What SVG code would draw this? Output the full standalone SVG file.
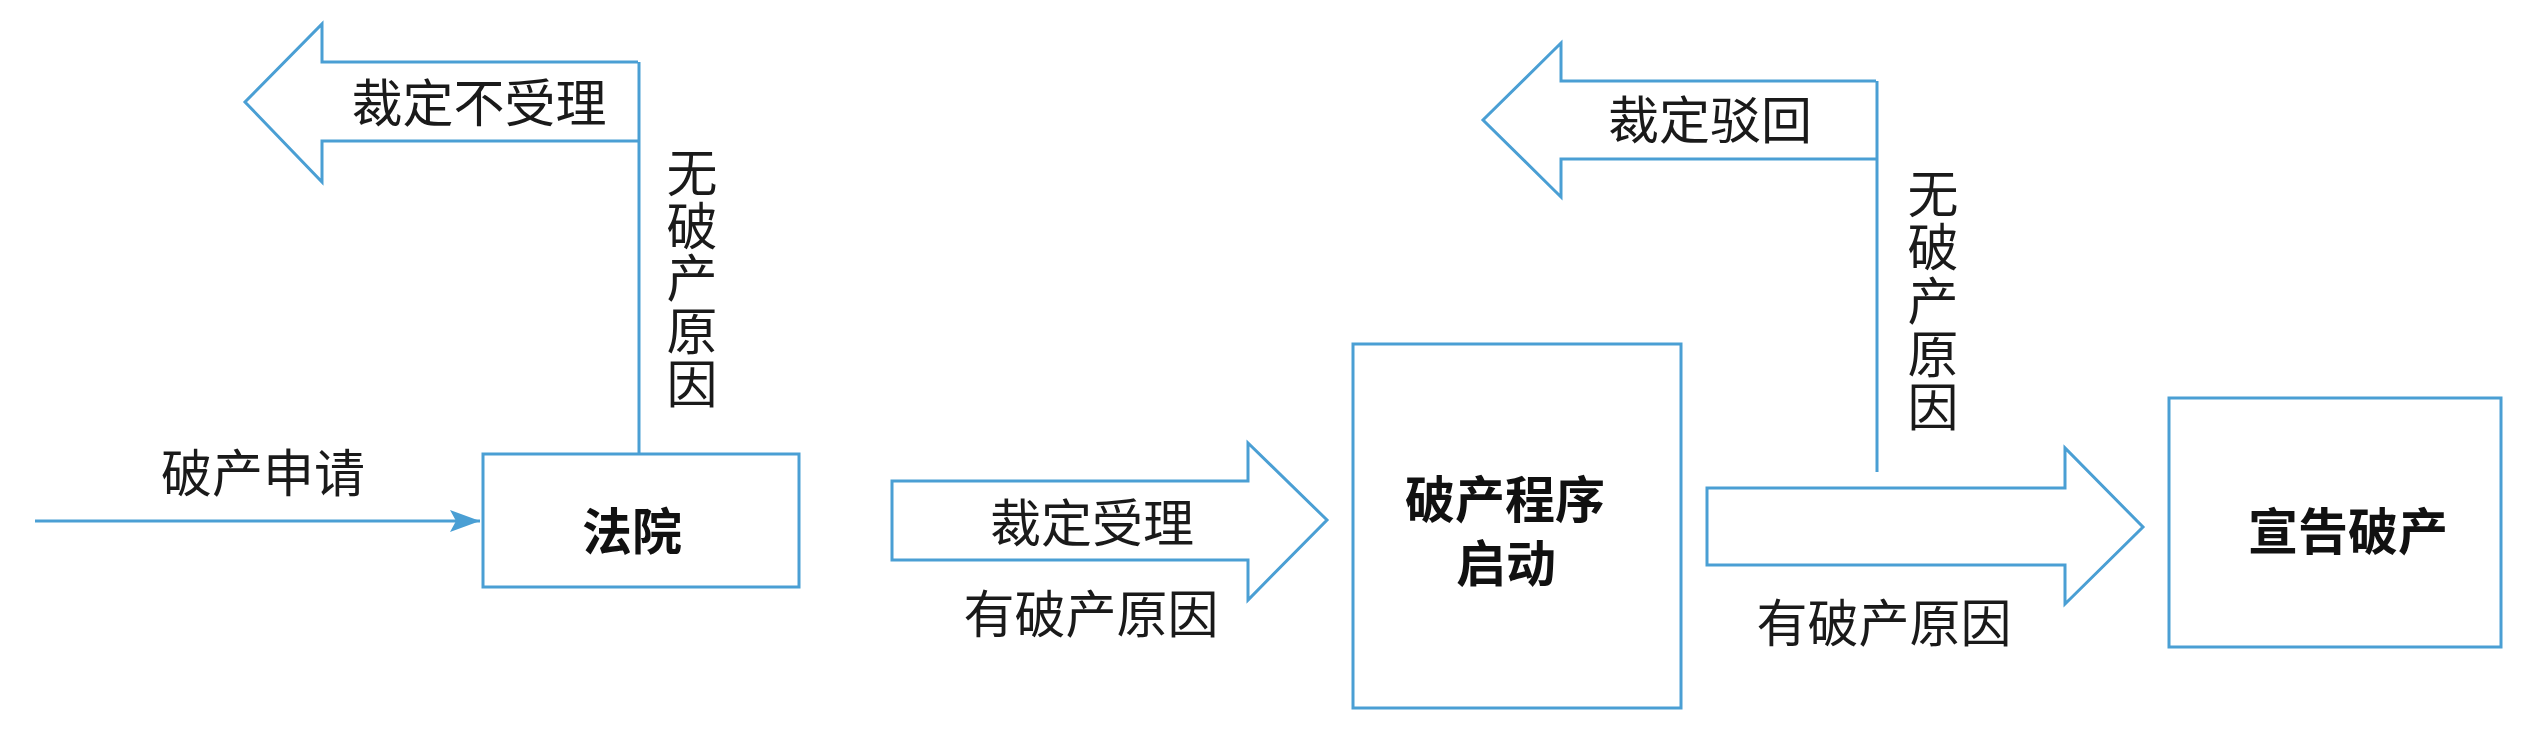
<svg xmlns="http://www.w3.org/2000/svg" width="2534" height="746" viewBox="0 0 2534 746">
<style>
.ln{fill:none;stroke:#4a9fd4;stroke-width:3;stroke-linejoin:miter}
.box{fill:#fff;stroke:#4a9fd4;stroke-width:3}
.lbl{font-family:"Noto Sans CJK SC","Noto Sans",sans-serif;font-size:51px;fill:#1a1a1a;text-anchor:middle;dominant-baseline:central}
.nd{font-family:"Noto Sans CJK SC","Noto Sans",sans-serif;font-size:50px;font-weight:bold;fill:#111;text-anchor:middle;dominant-baseline:central}
</style>
<defs>
<marker id="ah" markerWidth="30" markerHeight="22" refX="30" refY="11" orient="auto" markerUnits="userSpaceOnUse">
<path d="M0,0 L30,11 L0,22 L6,11 Z" fill="#4a9fd4"/>
</marker>
</defs>
<rect width="2534" height="746" fill="#fff"/>
<g id="connectors">
<line class="ln" x1="35" y1="521" x2="480" y2="521" marker-end="url(#ah)"/>
<path id="arrow-reject1" class="ln" d="M638,62 L322,62 L322,24 L245,102 L322,182 L322,141 L638,141"/>
<line class="ln" x1="639" y1="62" x2="639" y2="454"/>
<path id="arrow-accept" class="ln" d="M892,481 L1248,481 L1248,443 L1327,520 L1248,600 L1248,560 L892,560 Z"/>
<path id="arrow-reject2" class="ln" d="M1876,81 L1561,81 L1561,43 L1483,120 L1561,197 L1561,159 L1876,159"/>
<line class="ln" x1="1877" y1="81" x2="1877" y2="472"/>
<path id="arrow-declare" class="ln" d="M1707,488 L2065,488 L2065,448 L2143,527 L2065,604 L2065,565 L1707,565 Z"/>
</g>
<g id="labels">
<text class="lbl" x="479" y="100">裁定不受理</text>
<text class="lbl" x="692"><tspan x="692" y="170">无</tspan><tspan x="692" y="223">破</tspan><tspan x="692" y="275">产</tspan><tspan x="692" y="328">原</tspan><tspan x="692" y="381">因</tspan></text>
<text class="lbl" x="263" y="470">破产申请</text>
<text class="lbl" x="1092" y="520">裁定受理</text>
<text class="lbl" x="1091" y="611">有破产原因</text>
<text class="lbl" x="1710" y="117">裁定驳回</text>
<text class="lbl" x="1933"><tspan x="1933" y="191">无</tspan><tspan x="1933" y="244">破</tspan><tspan x="1933" y="298">产</tspan><tspan x="1933" y="351">原</tspan><tspan x="1933" y="404">因</tspan></text>
<text class="lbl" x="1884" y="620">有破产原因</text>
</g>
<g id="node-court">
<rect class="box" x="483" y="454" width="316" height="133"/>
<text class="nd" x="632" y="528">法院</text>
</g>
<g id="node-start">
<rect class="box" x="1353" y="344" width="328" height="364"/>
<text class="nd" x="1505" y="496">破产程序</text>
<text class="nd" x="1506" y="560">启动</text>
</g>
<g id="node-declare">
<rect class="box" x="2169" y="398" width="332" height="249"/>
<text class="nd" x="2348" y="528">宣告破产</text>
</g>
</svg>
